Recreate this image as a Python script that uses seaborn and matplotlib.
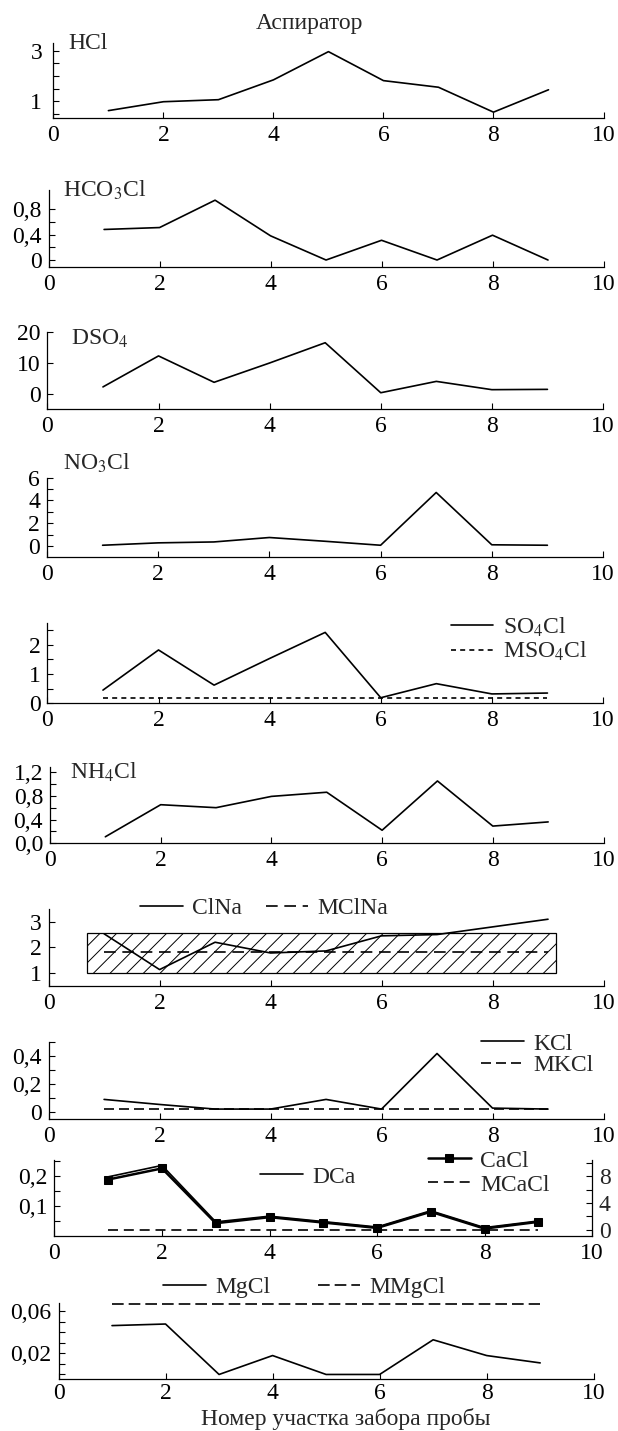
import numpy as np
import pandas as pd
import matplotlib
matplotlib.use('Agg')
import matplotlib.pyplot as plt
import seaborn as sns
from matplotlib.patches import Rectangle

# ---------------- data ----------------
sites = [1, 2, 3, 4, 5, 6, 7, 8, 9]
x_ticks = [0, 2, 4, 6, 8, 10]
x_tick_labels = ['0', '2', '4', '6', '8', '10']

hcl = [0.64, 0.99, 1.07, 1.85, 2.96, 1.82, 1.56, 0.58, 1.46]
hco3cl = [0.48, 0.51, 0.94, 0.38, 0.0, 0.31, 0.0, 0.39, 0.0]
dso4 = [2.2, 12.3, 3.7, 10.0, 16.6, 0.3, 4.0, 1.3, 1.4]
no3cl = [0.06, 0.27, 0.35, 0.74, 0.41, 0.06, 4.7, 0.1, 0.06]
so4cl = [0.45, 1.82, 0.62, 1.53, 2.42, 0.19, 0.67, 0.32, 0.35]
mso4cl = 0.17
nh4cl = [0.11, 0.65, 0.60, 0.79, 0.86, 0.22, 1.05, 0.29, 0.36]
clna = [2.53, 1.13, 2.2, 1.78, 1.86, 2.45, 2.5, 2.8, 3.1]
mclna = 1.83
clna_band_x = [0.69, 9.15]
clna_band_y = [1.0, 2.58]
kcl = [0.092, 0.056, 0.023, 0.023, 0.092, 0.023, 0.42, 0.03, 0.023]
mkcl = 0.021
dca = [0.197, 0.235, 0.047, 0.066, 0.048, 0.030, 0.084, 0.028, 0.050]
cacl = [7.5, 9.15, 1.0, 1.9, 1.1, 0.3, 2.7, 0.2, 1.2]
mcacl = 0.0
mgcl = [0.0465, 0.048, 0.0, 0.018, 0.0, 0.0, 0.033, 0.018, 0.011]
mmgcl = 0.067

title_text = 'Аспиратор'
x_label_text = 'Номер участка забора пробы'

# ---------------- style ----------------
sns.set_theme(style='ticks')
plt.rcParams['font.family'] = ['Liberation Serif', 'DejaVu Serif']
plt.rcParams['mathtext.fontset'] = 'stix'
plt.rcParams['font.size'] = 17
plt.rcParams['axes.edgecolor'] = 'black'
plt.rcParams['hatch.linewidth'] = 0.7

W, H = 618, 1431
FS = 17
fig = plt.figure(figsize=(W / 100, H / 100), dpi=100)
fig.patch.set_facecolor('white')


def make_ax(left, right, top, bottom):
    return fig.add_axes([left / W, 1 - bottom / H, (right - left) / W, (bottom - top) / H])


def style(ax, ylim, major, labels, minor=()):
    ax.set_xlim(0, 10)
    ax.set_ylim(*ylim)
    ax.set_xticks(x_ticks)
    ax.set_xticklabels(x_tick_labels)
    ax.set_yticks(major)
    ax.set_yticklabels(labels)
    ax.set_yticks(list(minor), minor=True)
    ax.tick_params(axis='both', which='both', direction='in', length=4, width=0.8,
                   color='black', labelsize=FS, labelcolor='black')
    ax.tick_params(axis='x', pad=5)
    ax.tick_params(axis='y', pad=5)
    for s in ['top', 'right']:
        ax.spines[s].set_visible(False)
    for s in ['left', 'bottom']:
        ax.spines[s].set_linewidth(0.9)
        ax.spines[s].set_color('black')
    ax.set_xlabel('')
    ax.set_ylabel('')
    ax.patch.set_alpha(0)
    ax.grid(False)


def line(ax, y, **kw):
    sns.lineplot(x=sites, y=y, ax=ax, color='black', linewidth=1.2, legend=False, **kw)


def hline(ax, val, dash, **kw):
    sns.lineplot(x=[sites[0], sites[-1]], y=[val, val], ax=ax, color='black',
                 linewidth=1.2, linestyle=(0, dash), legend=False, **kw)


def leg(ax, anchor, ncol=1, spacing=0.05, colsp=1.0, handles=None, labels=None):
    kw = dict(loc='upper left', bbox_to_anchor=anchor, frameon=False, borderpad=0,
              borderaxespad=0, handlelength=1.8, handletextpad=0.4, labelspacing=spacing,
              ncol=ncol, columnspacing=colsp, fontsize=FS)
    if handles is not None:
        ax.legend(handles, labels, **kw)
    else:
        ax.legend(**kw)


# ---- Panel 1: HCl
ax1 = make_ax(53.4, 603.5, 43, 118)
line(ax1, hcl)
style(ax1, (0.35, 3.3), [1, 3], ['1', '3'], [0.5, 1.5, 2, 2.5])
ax1.tick_params(axis='y', pad=8)
ax1.text(0.028, 0.99, 'HCl', transform=ax1.transAxes, va='center', ha='left', fontsize=FS)
fig.text(0.5, 1 - 24 / H, title_text, ha='center', va='center', fontsize=FS)

# ---- Panel 2: HCO3Cl
ax2 = make_ax(48.6, 603.5, 190, 266.7)
line(ax2, hco3cl)
style(ax2, (-0.105, 1.1), [0, 0.4, 0.8], ['0', '0,4', '0,8'], [0.2, 0.6])
ax2.text(0.026, 0.99, r'HCO$_3$Cl', transform=ax2.transAxes, va='center', ha='left', fontsize=FS)

# ---- Panel 3: DSO4
ax3 = make_ax(47.4, 603, 332.3, 409)
line(ax3, dso4)
style(ax3, (-5, 20), [0, 10, 20], ['0', '10', '20'])
ax3.text(0.042, 0.92, r'DSO$_4$', transform=ax3.transAxes, va='center', ha='left', fontsize=FS)

# ---- Panel 4: NO3Cl
ax4 = make_ax(47, 603, 477.7, 557.3)
line(ax4, no3cl)
style(ax4, (-1, 6), [0, 2, 4, 6], ['0', '2', '4', '6'], [1, 3, 5])
ax4.text(0.029, 1.18, r'NO$_3$Cl', transform=ax4.transAxes, va='center', ha='left', fontsize=FS)

# ---- Panel 5: SO4Cl
ax5 = make_ax(47.4, 603, 623.3, 703.3)
line(ax5, so4cl, label=r'SO$_4$Cl')
hline(ax5, mso4cl, (3, 2.5), label=r'MSO$_4$Cl')
style(ax5, (0, 2.73), [0, 1, 2], ['0', '1', '2'], [0.5, 1.5, 2.5])
leg(ax5, (0.726, 1.1))

# ---- Panel 6: NH4Cl
ax6 = make_ax(50, 603.5, 767.3, 843.3)
line(ax6, nh4cl)
style(ax6, (0, 1.28), [0, 0.4, 0.8, 1.2], ['0,0', '0,4', '0,8', '1,2'], [0.2, 0.6, 1.0])
ax6.text(0.037, 0.93, r'NH$_4$Cl', transform=ax6.transAxes, va='center', ha='left', fontsize=FS)

# ---- Panel 7: ClNa
ax7 = make_ax(48.6, 603.5, 909, 985.7)
ax7.add_patch(Rectangle((clna_band_x[0], clna_band_y[0]),
                        clna_band_x[1] - clna_band_x[0], clna_band_y[1] - clna_band_y[0],
                        facecolor='white', edgecolor='black', hatch='//', linewidth=0.9, zorder=1))
hline(ax7, mclna, (7, 4), label='MClNa', zorder=3)
line(ax7, clna, label='ClNa', zorder=4)
style(ax7, (0.5, 3.5), [1, 2, 3], ['1', '2', '3'])
h7, l7 = ax7.get_legend_handles_labels()
leg(ax7, (0.165, 1.15), ncol=2, colsp=1.0, handles=[h7[1], h7[0]], labels=[l7[1], l7[0]])

# ---- Panel 8: KCl
ax8 = make_ax(48.6, 603.5, 1042.3, 1119.3)
line(ax8, kcl, label='KCl')
hline(ax8, mkcl, (6, 3), label='MKCl')
style(ax8, (-0.05, 0.5), [0, 0.2, 0.4], ['0', '0,2', '0,4'], [0.1, 0.3, 0.5])
leg(ax8, (0.78, 1.12), spacing=0.0)

# ---- Panel 9: DCa / CaCl
ax9 = make_ax(54.5, 592, 1160, 1236)
line(ax9, dca, label='DCa')
style(ax9, (0, 0.253), [0.1, 0.2], ['0,1', '0,2'], [0.05, 0.15, 0.25])
ax9b = ax9.twinx()
sns.lineplot(x=sites, y=cacl, ax=ax9b, color='black', linewidth=1.8, marker='s',
             markersize=6, markeredgecolor='black', label='CaCl', legend=False)
hline(ax9b, mcacl, (6, 3.5), label='MCaCl')
ax9b.set_ylim(-0.9, 10.4)
ax9b.set_yticks([0, 4, 8])
ax9b.set_yticklabels(['0', '4', '8'])
ax9b.set_yticks([2, 6, 10], minor=True)
ax9b.tick_params(axis='y', which='both', direction='in', length=4, width=0.8,
                 color='black', labelsize=FS, pad=5)
for s in ['top', 'left', 'bottom']:
    ax9b.spines[s].set_visible(False)
ax9b.spines['right'].set_linewidth(0.9)
ax9b.spines['right'].set_color('black')
ax9b.set_ylabel('')
ax9b.grid(False)
leg(ax9, (0.383, 0.92))
leg(ax9b, (0.695, 1.13), spacing=0.1)

# ---- Panel 10: MgCl
ax10 = make_ax(58.5, 593.7, 1303, 1379.3)
line(ax10, mgcl, label='MgCl')
hline(ax10, mmgcl, (7, 3), label='MMgCl')
style(ax10, (-0.0046, 0.068), [0.02, 0.06], ['0,02', '0,06'], [0, 0.01, 0.03, 0.04, 0.05])
ax10.tick_params(axis='x', pad=3)
leg(ax10, (0.196, 1.35), ncol=2, colsp=2.0)
fig.text(0.56, 1 - 1419 / H, x_label_text, ha='center', va='center', fontsize=FS)

fig.savefig('out.png', dpi=100, facecolor='white')
